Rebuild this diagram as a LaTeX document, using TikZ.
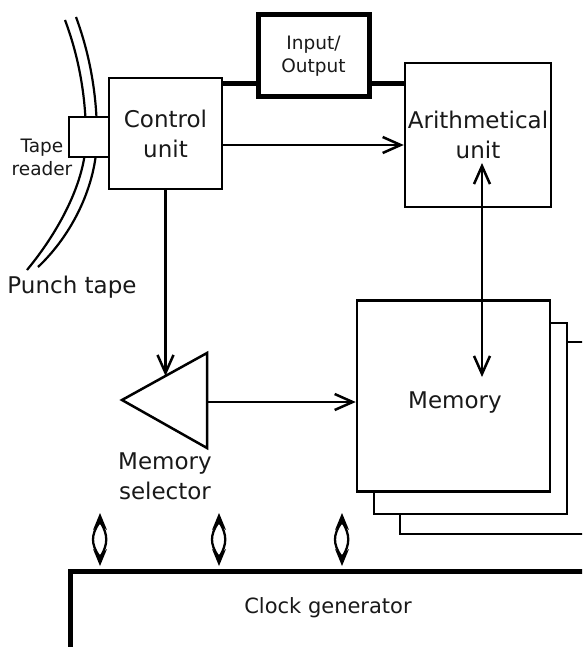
\documentclass[tikz,border=0pt]{standalone}
\usepackage{fontspec}
\setmainfont{DejaVu Sans}
\usetikzlibrary{arrows.meta}
\begin{document}
\begin{tikzpicture}[x=1pt,y=-1pt,
  box/.style={draw, line width=2.5pt, fill=white, inner sep=0pt},
  thickbox/.style={draw, line width=5pt, fill=white, inner sep=0pt},
  lbl/.style={font=\fontsize{23}{30}\selectfont, align=center, inner sep=0pt, text=black!90},
  small/.style={font=\fontsize{18.5}{23}\selectfont, align=center, inner sep=0pt, text=black!90},
  conn/.style={line width=2.5pt},
  thickline/.style={line width=5pt},
  barb/.tip={Straight Barb[length=18pt,width=16pt,line width=2.5pt]},
  arr/.style={conn, -barb},
  darr/.pic={
    \fill (0,0) -- (-7,17) -- (0,11) -- (7,17) -- cycle;
    \fill (0,53) -- (-7,36) -- (0,42) -- (7,36) -- cycle;
    \draw[line width=2.3pt] (-1,10) .. controls (-9,22) and (-9,31) .. (-1,43);
    \draw[line width=2.3pt] (1,10) .. controls (8,22) and (8,31) .. (1,43);
  }
]
\useasboundingbox (0,0) rectangle (582,647);
\clip (0,0) rectangle (582,647);

% punch tape
\draw[line width=2.2pt] (65,20) .. controls (80,60) and (86,100) .. (86,138) .. controls (86,180) and (60,230) .. (27,270);
\draw[line width=2.2pt] (76,17) .. controls (90,55) and (97,95) .. (97,137) .. controls (97,185) and (72,235) .. (38,267);

% boxes
\node[box, minimum width=40pt, minimum height=40pt] (tr) at (89,137) {};
\node[box, minimum width=113pt, minimum height=111pt, lbl] (cu) at (165.5,133.5) {Control\\unit};
\node[thickbox, minimum width=111pt, minimum height=82pt, small] (io) at (313.5,56) {Input/\\Output};
\node[box, minimum width=146pt, minimum height=144pt, lbl] (ar) at (478,135) {Arithmetical\\unit};

\node[small] (trl) at (42,157) {Tape\\reader};
\node[lbl] (pt) at (72,287) {Punch tape};

% memory stack
\draw[box] (400,342) rectangle (620,534);
\draw[box] (374,323) rectangle (567,514);
\node[box, minimum width=193pt, minimum height=191pt] (mem) at (453.5,396) {};
\node[lbl] (memt) at (455,403) {Memory};

% selector
\draw[conn, fill=white] (122,400) -- (207,353) -- (207,448) -- cycle;
\coordinate (selIn) at (165.5,376);
\coordinate (selR) at (207,402);
\node[lbl] (selt) at (165,476) {Memory\\selector};

% clock
\node[thickbox, minimum width=600pt, minimum height=200pt, anchor=north west] (clk) at (68,569) {};
\node[lbl, font=\fontsize{21}{26}\selectfont] (clkt) at (328,608) {Clock generator};

% connectors
\draw[thickline] ([yshift=-7pt]cu.north east) coordinate (t1) -- (t1 -| io.west);
\draw[thickline] (io.east |- t1) -- (t1 -| ar.west);
\draw[arr] ([yshift=-11.5pt]cu.east) coordinate (t2) -- (t2 -| ar.west);
\draw[arr] (cu.south) -- (selIn);
\draw[arr] (selR) -- (selR -| mem.west);
\coordinate (arp) at (482,163);
\coordinate (memp) at (482,377);
\draw[conn, barb-barb] (arp) -- (memp);

\coordinate (c1) at (100,513);
\coordinate (c2) at (219,513);
\coordinate (c3) at (342,513);
\pic at (c1) {darr};
\pic at (c2) {darr};
\pic at (c3) {darr};
\end{tikzpicture}
\end{document}
